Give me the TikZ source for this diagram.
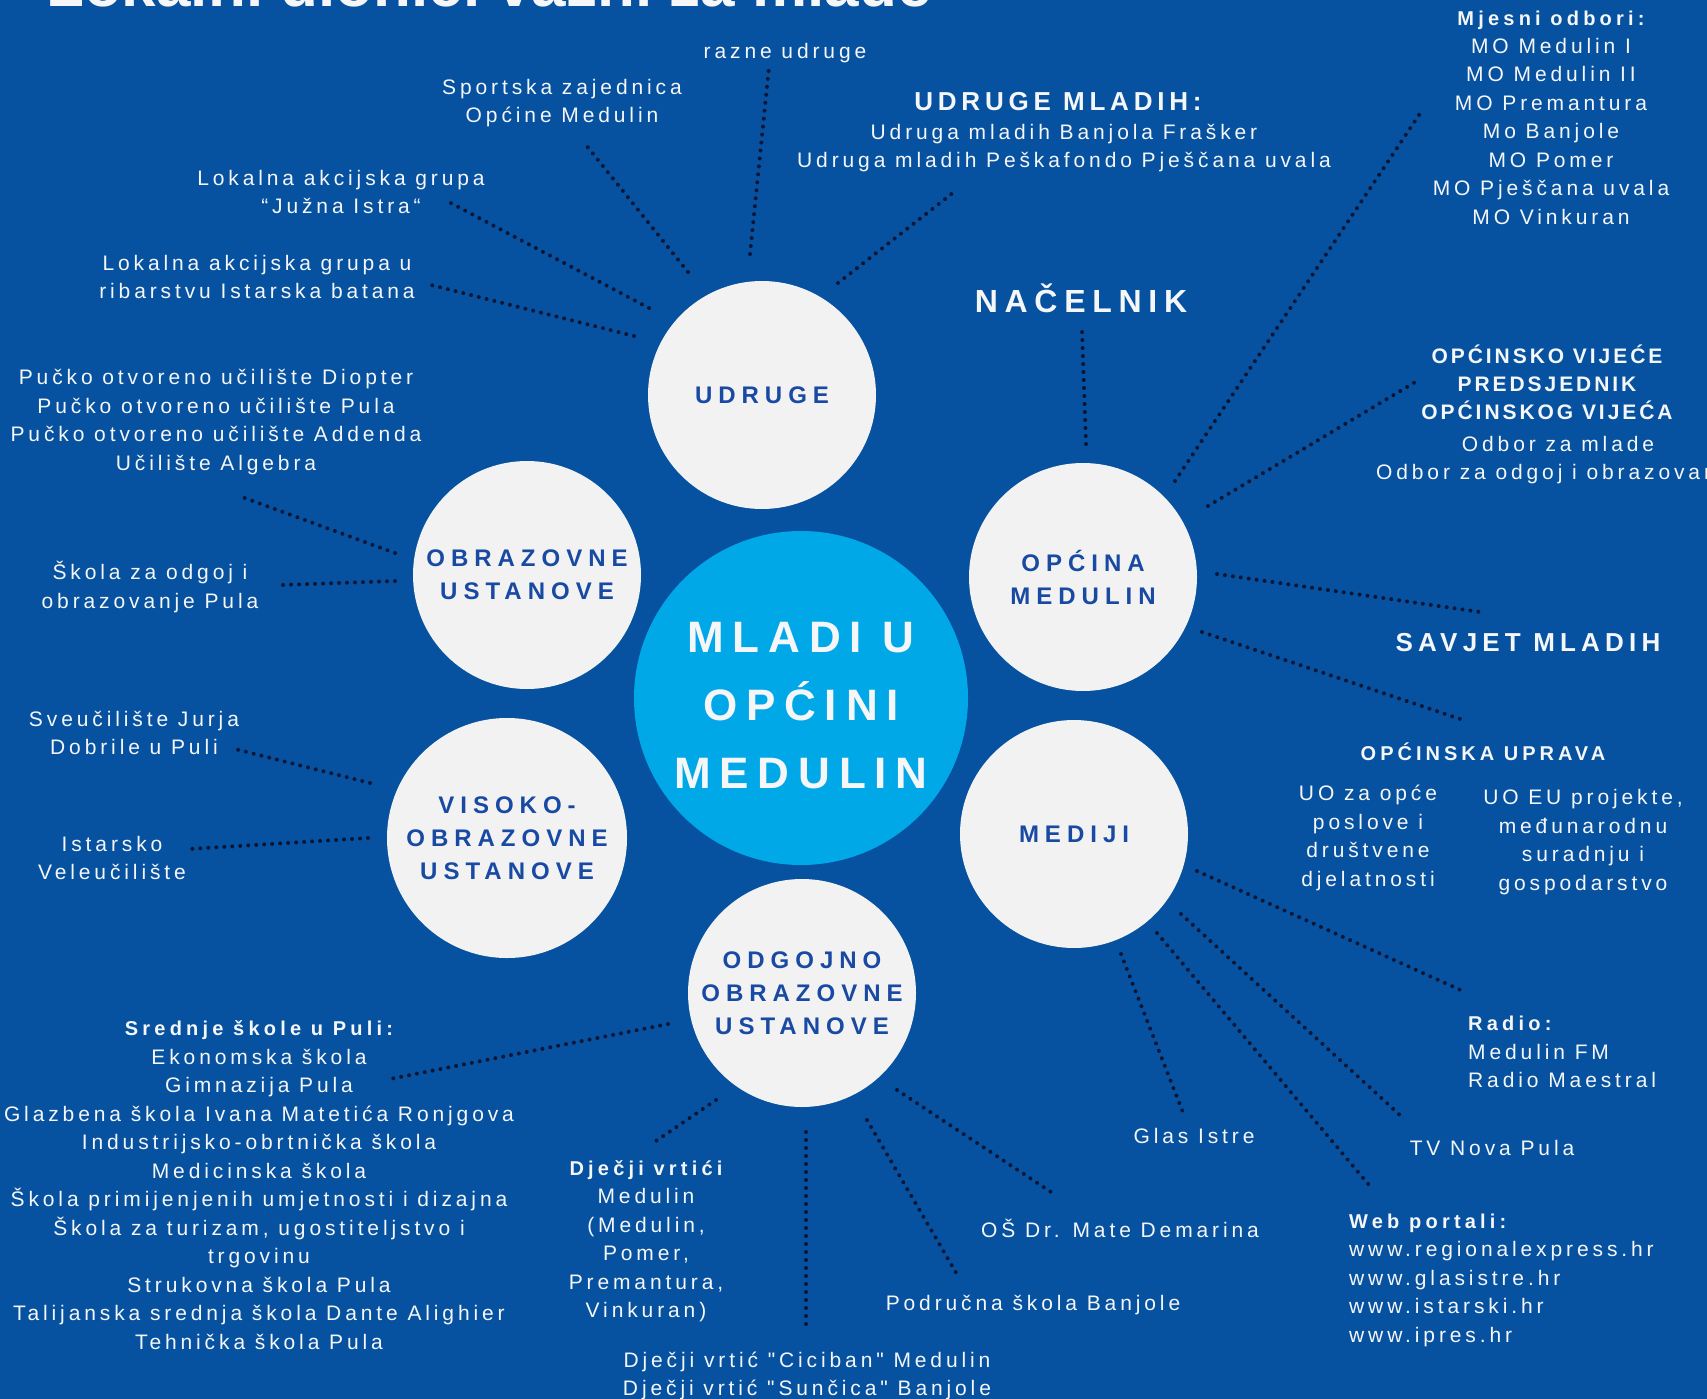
\documentclass[tikz,border=0pt]{standalone}
\usepackage{fontspec}
\setmainfont{Liberation Sans}
\newfontfamily\bodyfont[LetterSpace=18.5]{Liberation Sans}
\newfontfamily\headfont[LetterSpace=21]{Liberation Sans}
\newfontfamily\councilfont[LetterSpace=14]{Liberation Sans}
\newfontfamily\circfont[LetterSpace=25]{Liberation Sans}
\newfontfamily\hubfont[LetterSpace=20]{Liberation Sans}
\definecolor{pageblue}{RGB}{6, 82, 160}
\definecolor{bubblegray}{RGB}{242, 242, 242}
\definecolor{hubblue}{RGB}{0, 168, 232}
\definecolor{labelblue}{RGB}{24, 73, 163}
\definecolor{dotnavy}{RGB}{10, 22, 52}
\definecolor{softwhite}{RGB}{245, 246, 248}
\newcommand{\subhead}[1]{{\headfont\bfseries\fontsize{20}{28.5}\selectfont #1}}

\begin{document}
\begin{tikzpicture}[x=1pt, y=-1pt,
    bubble/.style={circle, fill=bubblegray, minimum size=228pt, inner sep=0pt, align=center, text=labelblue, font=\circfont\bfseries\fontsize{24}{33}\selectfont},
    hub/.style={circle, fill=hubblue, minimum size=334pt, inner sep=0pt},
    hubtext/.style={align=center, inner sep=0pt, text=softwhite, font=\hubfont\bfseries\fontsize{44}{68}\selectfont},
    info/.style={text=softwhite, align=center, inner sep=0pt, yshift=-2pt, font=\bodyfont\fontsize{21}{28.5}\selectfont},
    dotline/.style={dotnavy, line width=4pt, line cap=round, dash pattern=on 0pt off 8pt}]
                % Page
                \useasboundingbox (0,0) rectangle (1707,1399);
                \clip (0,0) rectangle (1707,1399);
                \fill[pageblue] (0,0) rectangle (1707,1399);
                
                % Title (cut by the top edge)
                \node[anchor=base west, inner sep=0pt, text=softwhite, font=\bfseries\fontsize{62}{70}\selectfont] (title) at (46,7) {Lokalni dionici važni za mlade};
                
                % Connector ends
                \coordinate (razneIn) at (750,254); \coordinate (razneOut) at (769,67);
                \coordinate (sportIn) at (688,272); \coordinate (sportOut) at (586,145);
                \coordinate (mladihIn) at (838,283); \coordinate (mladihOut) at (954,192);
                \coordinate (juznaIn) at (649,308); \coordinate (juznaOut) at (447,201);
                \coordinate (batanaIn) at (634,336); \coordinate (batanaOut) at (431,285);
                \coordinate (odboriIn) at (1175,481); \coordinate (odboriOut) at (1421,112);
                \coordinate (nacelnikIn) at (1086,444); \coordinate (nacelnikOut) at (1082,331);
                \coordinate (vijeceIn) at (1208,506); \coordinate (vijeceOut) at (1417,381);
                \coordinate (savjetIn) at (1217,574); \coordinate (savjetOut) at (1480,612);
                \coordinate (upravaIn) at (1202,632); \coordinate (upravaOut) at (1466,721);
                \coordinate (puckoIn) at (395,553); \coordinate (puckoOut) at (242,497);
                \coordinate (skolaIn) at (395,581); \coordinate (skolaOut) at (281,585);
                \coordinate (sveucIn) at (370,783); \coordinate (sveucOut) at (235,749);
                \coordinate (veleIn) at (368,838); \coordinate (veleOut) at (189,849);
                \coordinate (srednjeIn) at (668,1024); \coordinate (srednjeOut) at (390,1079);
                \coordinate (vrticiIn) at (716,1100); \coordinate (vrticiOut) at (653,1143);
                \coordinate (cicibanIn) at (806,1132); \coordinate (cicibanOut) at (806,1328);
                \coordinate (podrucnaIn) at (867,1120); \coordinate (podrucnaOut) at (958,1276);
                \coordinate (demarinaIn) at (897,1090); \coordinate (demarinaOut) at (1054,1194);
                \coordinate (glasIn) at (1121,954); \coordinate (glasOut) at (1184,1115);
                \coordinate (webIn) at (1157,933); \coordinate (webOut) at (1369,1185);
                \coordinate (tvIn) at (1181,914); \coordinate (tvOut) at (1402,1117);
                \coordinate (radioIn) at (1197,871); \coordinate (radioOut) at (1465,992);
                
                % Dotted connectors
                \draw[dotline] (razneIn) -- (razneOut);
                \draw[dotline] (sportIn) -- (sportOut);
                \draw[dotline] (mladihIn) -- (mladihOut);
                \draw[dotline] (juznaIn) -- (juznaOut);
                \draw[dotline] (batanaIn) -- (batanaOut);
                \draw[dotline] (odboriIn) -- (odboriOut);
                \draw[dotline] (nacelnikIn) -- (nacelnikOut);
                \draw[dotline] (vijeceIn) -- (vijeceOut);
                \draw[dotline] (savjetIn) -- (savjetOut);
                \draw[dotline] (upravaIn) -- (upravaOut);
                \draw[dotline] (puckoIn) -- (puckoOut);
                \draw[dotline] (skolaIn) -- (skolaOut);
                \draw[dotline] (sveucIn) -- (sveucOut);
                \draw[dotline] (veleIn) -- (veleOut);
                \draw[dotline] (srednjeIn) -- (srednjeOut);
                \draw[dotline] (vrticiIn) -- (vrticiOut);
                \draw[dotline] (cicibanIn) -- (cicibanOut);
                \draw[dotline] (podrucnaIn) -- (podrucnaOut);
                \draw[dotline] (demarinaIn) -- (demarinaOut);
                \draw[dotline] (glasIn) -- (glasOut);
                \draw[dotline] (webIn) -- (webOut);
                \draw[dotline] (tvIn) -- (tvOut);
                \draw[dotline] (radioIn) -- (radioOut);
                
                % Circles
                \node[hub] (hub) at (801,698) {};
                \node[hubtext] (hubText) at (801,706) {MLADI U\\OPĆINI\\MEDULIN};
                \node[bubble] (udruge) at (762,395) {UDRUGE};
                \node[bubble] (obrazovne) at (527,575) {OBRAZOVNE\\USTANOVE};
                \node[bubble] (opcina) at (1083,577) {OPĆINA\\MEDULIN};
                \node[bubble] (mediji) at (1074,834) {MEDIJI};
                \node[bubble, minimum size=240pt] (visoko) at (507,838) {VISOKO-\\OBRAZOVNE\\USTANOVE};
                \node[bubble] (odgojno) at (802,993) {ODGOJNO\\OBRAZOVNE\\USTANOVE};
                
                % Udruge
                \node[info] (razne) at (785,51) {razne udruge};
                \node[info] (sportska) at (562,101) {Sportska zajednica\\Općine Medulin};
                \node[info, font=\bodyfont\bfseries\fontsize{26}{30}\selectfont] (mladihHead) at (1058,100) {UDRUGE MLADIH:};
                \node[info] (mladih) at (1064,146) {Udruga mladih Banjola Frašker\\Udruga mladih Peškafondo Pješčana uvala};
                \node[info] (juzna) at (341,190) {Lokalna akcijska grupa\\“Južna Istra“};
                \node[info] (batana) at (257,275) {Lokalna akcijska grupa u\\ribarstvu Istarska batana};
                
                % Općina
                \node[info] (odboriHead) at (1551,18) {\subhead{Mjesni odbori:}};
                \node[info] (odbori) at (1551,129) {MO Medulin I\\MO Medulin II\\MO Premantura\\Mo Banjole\\MO Pomer\\MO Pješčana uvala\\MO Vinkuran};
                \node[info, font=\headfont\bfseries\fontsize{32}{36}\selectfont] (nacelnik) at (1081,296) {NAČELNIK};
                \node[info, font=\councilfont\bfseries\fontsize{21}{28}\selectfont] (vijece) at (1547,380) {OPĆINSKO VIJEĆE\\PREDSJEDNIK\\OPĆINSKOG VIJEĆA};
                \node[info] (odborMlade) at (1558,458) {Odbor za mlade\\Odbor za odgoj i obrazovanje};
                \node[info, font=\hubfont\bfseries\fontsize{26}{30}\selectfont] (savjet) at (1528,641) {SAVJET MLADIH};
                \node[info, font=\hubfont\bfseries\fontsize{20}{24}\selectfont] (uprava) at (1483,750) {OPĆINSKA UPRAVA};
                \node[info] (uoOpce) at (1368,836) {UO za opće\\poslove i\\društvene\\djelatnosti};
                \node[info] (uoEu) at (1583,840) {UO EU projekte,\\međunarodnu\\suradnju i\\gospodarstvo};
                
                % Mediji
                \node[info, anchor=west, align=left] (radio) at (1468,1050) {\subhead{Radio:}\\Medulin FM\\Radio Maestral};
                \node[info] (tv) at (1492,1146) {TV Nova Pula};
                \node[info] (glas) at (1194,1134) {Glas Istre};
                \node[info, anchor=west, align=left] (web) at (1349,1278) {\subhead{Web portali:}\\www.regionalexpress.hr\\www.glasistre.hr\\www.istarski.hr\\www.ipres.hr};
                
                % Odgojno obrazovne ustanove
                \node[info] (demarina) at (1120,1226) {OŠ Dr. Mate Demarina};
                \node[info] (podrucna) at (1033,1303) {Područna škola Banjole};
                \node[info] (ciciban) at (807,1374) {Dječji vrtić "Ciciban" Medulin\\Dječji vrtić "Sunčica" Banjole};
                \node[info] (vrtici) at (646,1239) {\subhead{Dječji vrtići}\\Medulin\\(Medulin,\\Pomer,\\Premantura,\\Vinkuran)};
                \node[info] (srednje) at (259,1183) {\subhead{Srednje škole u Puli:}\\Ekonomska škola\\Gimnazija Pula\\Glazbena škola Ivana Matetića Ronjgova\\Industrijsko-obrtnička škola\\Medicinska škola\\Škola primijenjenih umjetnosti i dizajna\\Škola za turizam, ugostiteljstvo i\\trgovinu\\Strukovna škola Pula\\Talijanska srednja škola Dante Alighier\\Tehnička škola Pula};
                
                % Obrazovne i visokoobrazovne ustanove
                \node[info] (pucko) at (216,420) {Pučko otvoreno učilište Diopter\\Pučko otvoreno učilište Pula\\Pučko otvoreno učilište Addenda\\Učilište Algebra};
                \node[info] (skola) at (150,585) {Škola za odgoj i\\obrazovanje Pula};
                \node[info] (sveuciliste) at (134,731) {Sveučilište Jurja\\Dobrile u Puli};
                \node[info] (veleuciliste) at (112,856) {Istarsko\\Veleučilište};
            \end{tikzpicture}
\end{document}
